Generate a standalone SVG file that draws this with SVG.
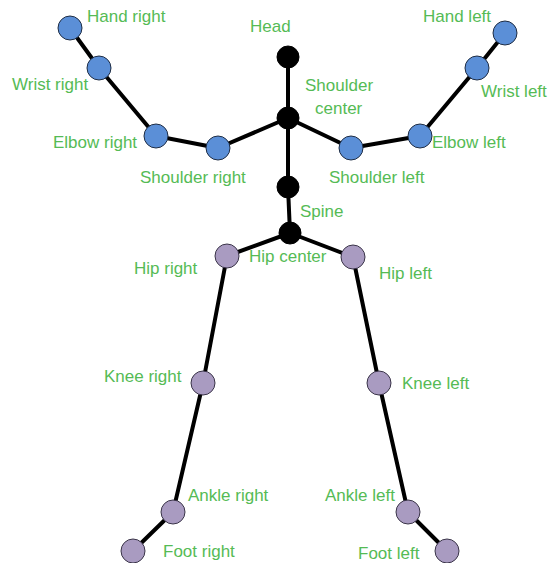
<svg xmlns="http://www.w3.org/2000/svg" width="553" height="563" viewBox="0 0 553 563">
  <style>
    .bone { stroke: #000; stroke-width: 4; fill: none; stroke-linecap: round; stroke-linejoin: round; }
    .arm { fill: #5b8fd7; stroke: #1f2d44; stroke-width: 1; }
    .leg { fill: #a99bc1; stroke: #3a3448; stroke-width: 1; }
    .core { fill: #000; stroke: #000; stroke-width: 1; }
    text { font-family: "Liberation Sans", Arial, sans-serif; font-size: 17px; fill: #55bb55; }
  </style>
  <rect width="553" height="563" fill="#fff"/>

  <!-- skeleton bones -->
  <g id="connectors">
    <polyline class="bone" points="70,28 99,68 156,136 218,148 288,118"/>
    <polyline class="bone" points="288,118 351,148 420,136 477,68 505,33"/>
    <polyline class="bone" points="288,57 288,118 288,187 290,233"/>
    <polyline class="bone" points="290,233 227,256 203,383 173,512 133,551"/>
    <polyline class="bone" points="290,233 353,257 379,383 408,512 447,551"/>
  </g>

  <!-- joints -->
  <g id="head"><circle class="core" cx="288" cy="57" r="11"/><text x="250" y="32">Head</text></g>
  <g id="shoulder-center"><circle class="core" cx="288" cy="118" r="11"/><text x="305" y="91">Shoulder</text><text x="315" y="114">center</text></g>
  <g id="spine"><circle class="core" cx="288" cy="187" r="11"/><text x="300" y="217">Spine</text></g>
  <g id="hip-center"><circle class="core" cx="290" cy="233" r="11"/><text x="249" y="262">Hip center</text></g>

  <g id="hand-right"><circle class="arm" cx="70" cy="28" r="12"/><text x="87" y="22">Hand right</text></g>
  <g id="wrist-right"><circle class="arm" cx="99" cy="68" r="12"/><text x="12" y="90">Wrist right</text></g>
  <g id="elbow-right"><circle class="arm" cx="156" cy="136" r="12"/><text x="53" y="148">Elbow right</text></g>
  <g id="shoulder-right"><circle class="arm" cx="218" cy="148" r="12"/><text x="140" y="183">Shoulder right</text></g>

  <g id="shoulder-left"><circle class="arm" cx="351" cy="148" r="12"/><text x="329" y="183">Shoulder left</text></g>
  <g id="elbow-left"><circle class="arm" cx="420" cy="136" r="12"/><text x="432" y="148">Elbow left</text></g>
  <g id="wrist-left"><circle class="arm" cx="477" cy="68" r="12"/><text x="481" y="97">Wrist left</text></g>
  <g id="hand-left"><circle class="arm" cx="505" cy="33" r="12"/><text x="423" y="22">Hand left</text></g>

  <g id="hip-right"><circle class="leg" cx="227" cy="256" r="12"/><text x="134" y="274">Hip right</text></g>
  <g id="knee-right"><circle class="leg" cx="203" cy="383" r="12"/><text x="104" y="382">Knee right</text></g>
  <g id="ankle-right"><circle class="leg" cx="173" cy="512" r="12"/><text x="188" y="501">Ankle right</text></g>
  <g id="foot-right"><circle class="leg" cx="133" cy="551" r="12"/><text x="163" y="557">Foot right</text></g>

  <g id="hip-left"><circle class="leg" cx="353" cy="257" r="12"/><text x="379" y="279">Hip left</text></g>
  <g id="knee-left"><circle class="leg" cx="379" cy="383" r="12"/><text x="402" y="389">Knee left</text></g>
  <g id="ankle-left"><circle class="leg" cx="408" cy="512" r="12"/><text x="325" y="501">Ankle left</text></g>
  <g id="foot-left"><circle class="leg" cx="447" cy="551" r="12"/><text x="358" y="559">Foot left</text></g>
</svg>
